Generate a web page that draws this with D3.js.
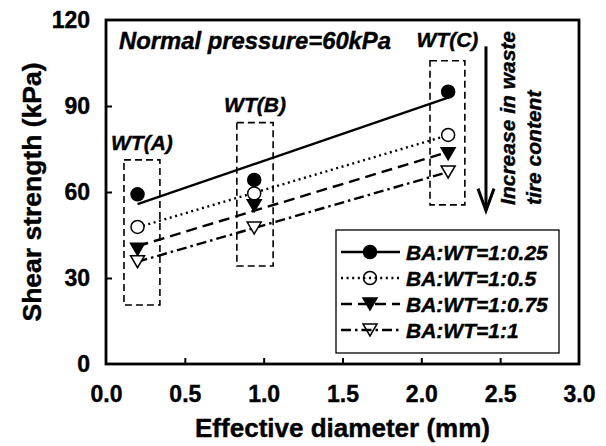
<!DOCTYPE html>
<html>
<head>
<meta charset="utf-8">
<title>Shear strength</title>
<script src="https://d3js.org/d3.v7.min.js"></script>
<style>
  body { margin: 0; background: #fff; }
  text { font-family: "Liberation Sans", Arial, sans-serif; font-weight: bold; fill: #000;
         stroke: #000; stroke-width: 0.4px; }
</style>
</head>
<body>
<script>
// data
var diameters = [0.2, 0.94, 2.17];
var seriesNames = ["BA:WT=1:0.25", "BA:WT=1:0.5", "BA:WT=1:0.75", "BA:WT=1:1"];
var ba025 = [59.2, 64.2, 95.0];
var ba05  = [47.8, 59.5, 79.9];
var ba075 = [40.0, 55.2, 73.3];
var ba1   = [35.7, 47.4, 67.0];
var xTicks = [0, 0.5, 1.0, 1.5, 2.0, 2.5, 3.0];
var yTicks = [0, 30, 60, 90, 120];
var groupNames = ["WT(A)", "WT(B)", "WT(C)"];
var groupX = [[0.114, 0.342], [0.83, 1.06], [2.055, 2.276]];
var groupY = [[20.6, 71.2], [34.2, 84.2], [55.5, 105.8]];
var groupLabelY = [74.5, 88, 110.5];

var width = 606, height = 446;
var x = d3.scaleLinear().domain([0, 3]).range([106, 579]);
var y = d3.scaleLinear().domain([0, 120]).range([364, 20]);

var svg = d3.select("body").append("svg")
  .attr("width", width)
  .attr("height", height);

var allSeries = [ba025, ba05, ba075, ba1];
var styles = [
  { dash: null,            shape: "circle",   fill: "#000" },
  { dash: "2,3.6",         shape: "circle",   fill: "#fff" },
  { dash: "11,6",          shape: "triangle", fill: "#000" },
  { dash: "10,4,2.5,4",    shape: "triangle", fill: "#fff" }
];

function fit(xs, ys) {
  var mx = d3.mean(xs), my = d3.mean(ys);
  var sxy = d3.sum(xs, function(v, i) { return (v - mx) * (ys[i] - my); });
  var sxx = d3.sum(xs, function(v) { return (v - mx) * (v - mx); });
  var b = sxy / sxx;
  return function(v) { return my + b * (v - mx); };
}

function marker(sel, shape, fill) {
  if (shape === "circle") {
    sel.append("circle").attr("r", 6.5).attr("fill", fill)
      .attr("stroke", "#000").attr("stroke-width", 1.5);
  } else {
    sel.append("path").attr("d", "M-7,-6L7,-6L0,6Z").attr("fill", fill)
      .attr("stroke", "#000").attr("stroke-width", 1.5).attr("stroke-linejoin", "miter");
  }
}

// dashed group boxes
groupNames.forEach(function(name, i) {
  svg.append("rect")
    .attr("x", x(groupX[i][0]))
    .attr("y", y(groupY[i][1]))
    .attr("width", x(groupX[i][1]) - x(groupX[i][0]))
    .attr("height", y(groupY[i][0]) - y(groupY[i][1]))
    .attr("fill", "none").attr("stroke", "#000")
    .attr("stroke-width", 1.6).attr("stroke-dasharray", "7,4");
  svg.append("text")
    .attr("x", x((groupX[i][0] + groupX[i][1]) / 2))
    .attr("y", y(groupLabelY[i]))
    .attr("text-anchor", "middle")
    .style("font-style", "italic").style("font-size", "21px")
    .text(name);
});

// regression lines
var xExt = d3.extent(diameters);
allSeries.forEach(function(vals, i) {
  var f = fit(diameters, vals);
  svg.append("line")
    .attr("x1", x(xExt[0])).attr("y1", y(f(xExt[0])))
    .attr("x2", x(xExt[1])).attr("y2", y(f(xExt[1])))
    .attr("stroke", "#000").attr("stroke-width", 2.4)
    .attr("stroke-dasharray", styles[i].dash);
});

// markers
allSeries.forEach(function(vals, i) {
  var pts = svg.selectAll(null).data(vals).enter().append("g")
    .attr("transform", function(d, j) { return "translate(" + x(diameters[j]) + "," + y(d) + ")"; });
  marker(pts, styles[i].shape, styles[i].fill);
});

// frame
svg.append("rect")
  .attr("x", x(0)).attr("y", y(120))
  .attr("width", x(3) - x(0)).attr("height", y(0) - y(120))
  .attr("fill", "none").attr("stroke", "#000").attr("stroke-width", 2.8);

// axes, ticks inward
var xAxis = svg.append("g").attr("transform", "translate(0," + y(0) + ")")
  .call(d3.axisBottom(x).tickValues(xTicks).tickSizeInner(-6).tickSizeOuter(0).tickPadding(22)
    .tickFormat(d3.format(".1f")));
var yAxis = svg.append("g").attr("transform", "translate(" + x(0) + ",0)")
  .call(d3.axisLeft(y).tickValues(yTicks).tickSizeInner(-6).tickSizeOuter(0).tickPadding(16));
[xAxis, yAxis].forEach(function(a) {
  a.select(".domain").remove();
  a.selectAll("line").attr("stroke-width", 2);
  a.selectAll("text").style("font-size", "23px").attr("font-family", null);
});
xAxis.selectAll(".tick").filter(function(d) { return d === 0 || d === 3; }).select("line").remove();
yAxis.selectAll(".tick").filter(function(d) { return d === 0 || d === 120; }).select("line").remove();

// axis titles
svg.append("text")
  .attr("x", (x(0) + x(3)) / 2).attr("y", 437)
  .attr("text-anchor", "middle").style("font-size", "25px")
  .attr("textLength", 295).attr("lengthAdjust", "spacingAndGlyphs")
  .text("Effective diameter (mm)");
svg.append("text")
  .attr("transform", "translate(41," + (y(0) + y(120)) / 2 + ") rotate(-90)")
  .attr("text-anchor", "middle").style("font-size", "25px")
  .attr("textLength", 259).attr("lengthAdjust", "spacingAndGlyphs")
  .text("Shear strength (kPa)");

// annotations
svg.append("text")
  .attr("x", 119).attr("y", y(110))
  .style("font-style", "italic").style("font-size", "23px")
  .attr("textLength", 272).attr("lengthAdjust", "spacingAndGlyphs")
  .text("Normal pressure=60kPa");

var arrowX = x(2.41), arrowTop = y(110.8), arrowBot = y(53.5);
svg.append("line")
  .attr("x1", arrowX).attr("x2", arrowX).attr("y1", arrowTop).attr("y2", arrowBot - 2)
  .attr("stroke", "#000").attr("stroke-width", 3);
svg.append("path")
  .attr("d", "M" + (arrowX - 8) + "," + (arrowBot - 22) + "L" + arrowX + "," + arrowBot + "L" + (arrowX + 8) + "," + (arrowBot - 22))
  .attr("fill", "none").attr("stroke", "#000").attr("stroke-width", 3);

var sideLines = ["Increase in waste", "tire content"];
svg.append("text")
  .attr("transform", "translate(515," + y(55.5) + ") rotate(-90)")
  .style("font-style", "italic").style("font-size", "21px")
  .selectAll("tspan").data(sideLines).enter().append("tspan")
  .attr("x", 0).attr("dy", function(d, i) { return i ? 26 : 0; })
  .text(function(d) { return d; });

// legend
var leg = svg.append("g");
leg.append("rect")
  .attr("x", 336).attr("y", 230).attr("width", 223).attr("height", 123)
  .attr("fill", "#fff").attr("stroke", "#000").attr("stroke-width", 1.3);
seriesNames.forEach(function(name, i) {
  var ry = 252 + i * 26;
  leg.append("line")
    .attr("x1", 341).attr("x2", 400).attr("y1", ry).attr("y2", ry)
    .attr("stroke", "#000").attr("stroke-width", 2.4)
    .attr("stroke-dasharray", styles[i].dash);
  var m = leg.append("g").attr("transform", "translate(370," + ry + ")");
  marker(m, styles[i].shape, styles[i].fill === "#fff" ? "none" : "#000");
  leg.append("text")
    .attr("x", 406).attr("y", ry + 8)
    .style("font-style", "italic").style("font-size", "21px")
    .text(name);
});
</script>
</body>
</html>
